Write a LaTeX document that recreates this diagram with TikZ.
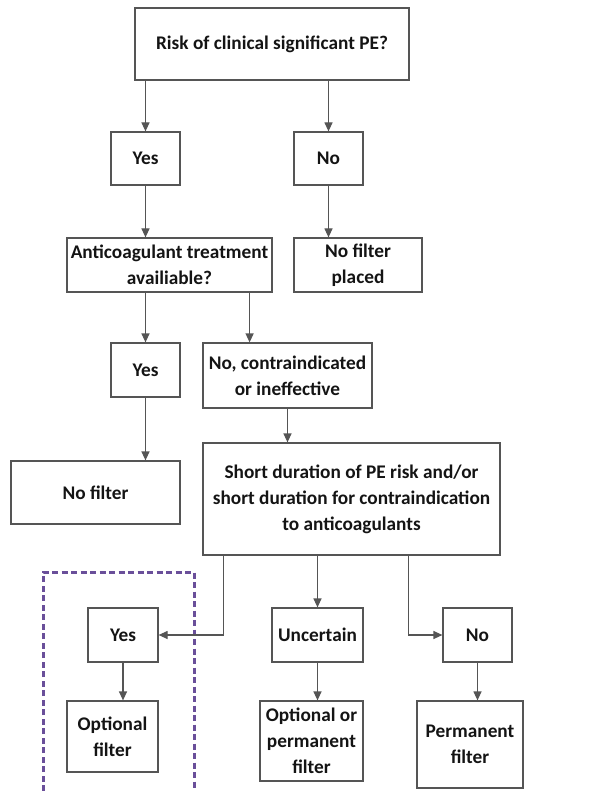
\documentclass[tikz,border=0pt]{standalone}
\usepackage{fontspec}
\setmainfont{Carlito}
\usepackage{tikz}
\usetikzlibrary{arrows.meta,calc,positioning}
\definecolor{edge}{HTML}{555555}
\definecolor{ink}{HTML}{141414}
\definecolor{frame}{HTML}{6A4F9A}

\tikzset{
  box/.style={draw=edge,line width=1.2pt,fill=white,text=ink,align=center,inner sep=0pt,
    font=\bfseries\fontsize{19.3}{26}\selectfont},
  link/.style={draw=edge,line width=1.2pt,-{Triangle[length=9pt,width=8pt]}},
}

\begin{document}
\begin{tikzpicture}[x=1pt,y=-1pt]
  \useasboundingbox (0,0) rectangle (606,791);
  % selected region
  \draw[frame,line width=3pt,dash pattern=on 6pt off 3.5pt] (43,791)--(43,572)--(194,572)--(194,791);

  \node[box,minimum width=274pt,minimum height=72pt] (risk) at (272,44) {Risk of clinical significant PE?};
  \node[box,minimum width=69pt,minimum height=53pt] (yesa) at (145.5,158.5) {Yes};
  \node[box,minimum width=69pt,minimum height=53pt] (noa) at (328.5,158.5) {No};
  \node[box,minimum width=205pt,minimum height=54pt] (anti) at (169.5,265) {Anticoagulant treatment\\availiable?};
  \node[box,minimum width=128pt,minimum height=54pt] (noplaced) at (358,265) {No filter\\placed};
  \node[box,minimum width=69pt,minimum height=54pt] (yesb) at (145.5,370) {Yes};
  \node[box,minimum width=169pt,minimum height=65pt] (contra) at (287.5,375.5) {No, contraindicated\\or ineffective};
  \node[box,minimum width=169pt,minimum height=63pt] (nofilter) at (95.5,492.5) {No filter};
  \node[box,minimum width=297pt,minimum height=112pt] (short) at (351.5,499) {Short duration of PE risk and/or\\short duration for contraindication\\to anticoagulants};
  \node[box,minimum width=70pt,minimum height=54pt] (yesc) at (123,635) {Yes};
  \node[box,minimum width=91pt,minimum height=54pt] (uncert) at (317.5,635) {Uncertain};
  \node[box,minimum width=69pt,minimum height=54pt] (noc) at (477.5,635) {No};
  \node[box,minimum width=91pt,minimum height=71pt] (optional) at (112.5,736.5) {Optional\\filter};
  \node[box,minimum width=103pt,minimum height=80pt] (optperm) at (311.5,741) {Optional or\\permanent\\filter};
  \node[box,minimum width=106pt,minimum height=87pt] (perm) at (470,744.5) {Permanent\\filter};

  \coordinate (antiout) at ($(anti.south east)+(-23,0)$);
  \coordinate (shortl) at ($(short.south west)+(21,0)$);
  \coordinate (shortr) at ($(short.south west)+(206,0)$);

  \draw[link] (yesa |- risk.south) -- (yesa);
  \draw[link] (noa |- risk.south) -- (noa);
  \draw[link] (yesa) -- (yesa |- anti.north);
  \draw[link] (noa) -- (noa |- noplaced.north);
  \draw[link] (yesb |- anti.south) -- (yesb);
  \draw[link] (antiout) -- (antiout |- contra.north);
  \draw[link] (contra) -- (contra |- short.north);
  \draw[link] (yesb) -- (yesb |- nofilter.north);
  \draw[link] (shortl) |- (yesc);
  \draw[link] (uncert |- short.south) -- (uncert);
  \draw[link] (shortr) |- (noc);
  \draw[link] (yesc) -- (yesc |- optional.north);
  \draw[link] (uncert) -- (uncert |- optperm.north);
  \draw[link] (noc) -- (noc |- perm.north);
\end{tikzpicture}
\end{document}
